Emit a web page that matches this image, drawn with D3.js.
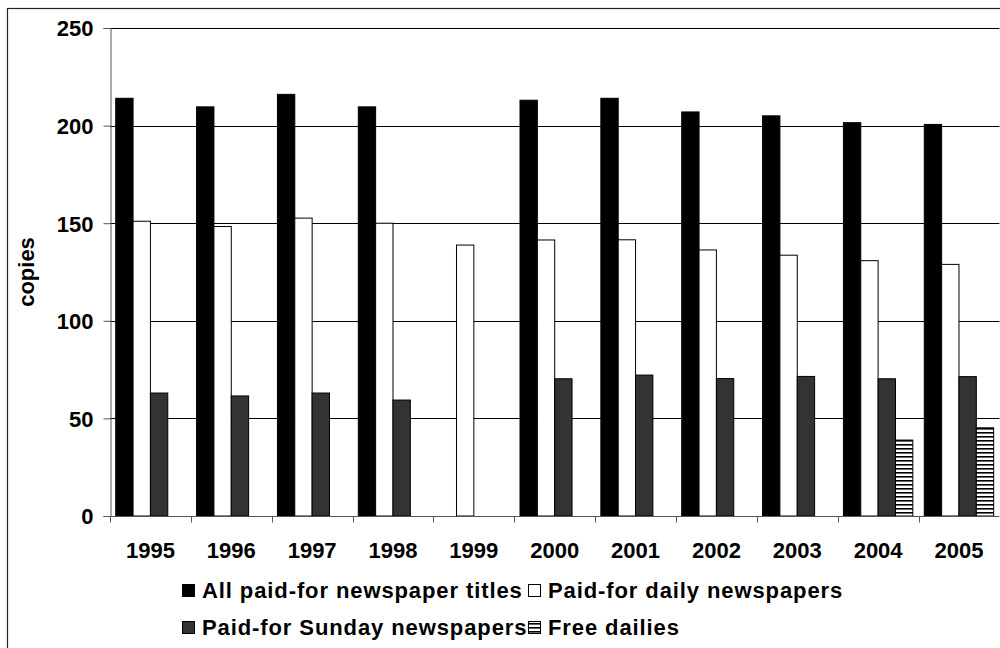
<!DOCTYPE html>
<html>
<head>
<meta charset="utf-8">
<script src="https://cdn.jsdelivr.net/npm/d3@7"></script>
<style>
  html, body { margin: 0; padding: 0; background: #fff; }
  svg { display: block; }
  text { font-family: 'Liberation Sans', Arial, sans-serif; font-weight: bold; fill: #000; }
</style>
</head>
<body>
<svg id="chart"></svg>
<script>
const WIDTH = 1000;
const HEIGHT = 648;

// Plot area in pixels.
const PLOT_LEFT = 110;
const PLOT_RIGHT = 999.4;
const PLOT_TOP = 28;
const PLOT_BOTTOM = 516;

const FONT_SIZE = 22;

// Data (null = no bar).
const years = ['1995', '1996', '1997', '1998', '1999', '2000', '2001', '2002', '2003', '2004', '2005'];
const seriesNames = [
  'All paid-for newspaper titles',
  'Paid-for daily newspapers',
  'Paid-for Sunday newspapers',
  'Free dailies'
];
const allPaid = [214, 209.6, 216, 209.6, null, 213, 214, 207, 205, 201.5, 200.6];
const paidDaily = [151, 148.3, 152.6, 150, 138.8, 141.4, 141.5, 136.3, 133.6, 130.8, 128.9];
const paidSunday = [63, 61.5, 63, 59.4, null, 70.3, 72.2, 70.4, 71.5, 70.3, 71.4];
const freeDailies = [null, null, null, null, null, null, null, null, null, 38.9, 45.2];
const yTicks = [0, 50, 100, 150, 200, 250];

const seriesValues = [allPaid, paidDaily, paidSunday, freeDailies];
const seriesFill = ['#000000', '#ffffff', '#333333', 'url(#stripes)'];

const svg = d3.select('#chart').attr('width', WIDTH).attr('height', HEIGHT);

// Horizontal stripe pattern for the free dailies.
const pattern = svg.append('defs').append('pattern')
  .attr('id', 'stripes')
  .attr('patternUnits', 'userSpaceOnUse')
  .attr('width', 8)
  .attr('height', 4);
pattern.append('rect').attr('width', 8).attr('height', 4).attr('fill', '#fff');
pattern.append('rect').attr('width', 8).attr('height', 1.6).attr('fill', '#000');

// Outer frame of the chart (runs off the right and bottom edges).
svg.append('rect')
  .attr('x', 7.5).attr('y', 8.5)
  .attr('width', WIDTH + 20).attr('height', HEIGHT + 20)
  .attr('fill', 'none').attr('stroke', '#222').attr('stroke-width', 1.2);

const x0 = d3.scaleBand().domain(years).range([PLOT_LEFT, PLOT_RIGHT]);
const x1 = d3.scaleBand()
  .domain(d3.range(seriesNames.length))
  .range([0, x0.bandwidth()])
  .paddingInner(0)
  .paddingOuter(0.33);
const y = d3.scaleLinear().domain([0, 250]).range([PLOT_BOTTOM, PLOT_TOP]);

// Gridlines.
svg.append('g')
  .selectAll('line')
  .data(yTicks.filter(t => t > 0))
  .join('line')
  .attr('x1', PLOT_LEFT).attr('x2', PLOT_RIGHT)
  .attr('y1', d => Math.round(y(d)) + 0.5).attr('y2', d => Math.round(y(d)) + 0.5)
  .attr('stroke', '#000');

// Bars: one group per year, one rect per series.
const bars = [];
years.forEach((year, i) => {
  seriesValues.forEach((values, s) => {
    if (values[i] != null) bars.push({year, s, value: values[i]});
  });
});

svg.append('g')
  .selectAll('rect')
  .data(bars)
  .join('rect')
  .attr('x', d => x0(d.year) + x1(d.s))
  .attr('width', x1.bandwidth())
  .attr('y', d => y(d.value))
  .attr('height', d => y(0) - y(d.value))
  .attr('fill', d => seriesFill[d.s])
  .attr('stroke', '#000')
  .attr('stroke-width', 1);

// Y axis.
const yAxis = d3.axisLeft(y).tickValues(yTicks).tickSize(7).tickPadding(10);
const yAxisGroup = svg.append('g')
  .attr('transform', `translate(${PLOT_LEFT + 0.5}, 0)`)
  .call(yAxis);
yAxisGroup.select('.domain').attr('stroke', '#555');
yAxisGroup.selectAll('.tick line').attr('stroke', '#555');
yAxisGroup.selectAll('.tick text')
  .attr('font-size', FONT_SIZE)
  .attr('font-family', null)
  .attr('dy', '0.36em');

// X axis: ticks sit on the band boundaries.
const xAxisGroup = svg.append('g')
  .attr('transform', `translate(0, ${PLOT_BOTTOM + 0.5})`);
xAxisGroup.append('line')
  .attr('x1', PLOT_LEFT).attr('x2', PLOT_RIGHT)
  .attr('stroke', '#555');
xAxisGroup.selectAll('.xtick')
  .data(years)
  .join('line')
  .attr('class', 'xtick')
  .attr('x1', d => Math.round(x0(d)) + 0.5).attr('x2', d => Math.round(x0(d)) + 0.5)
  .attr('y1', 0).attr('y2', 6)
  .attr('stroke', '#555');
xAxisGroup.selectAll('.xlabel')
  .data(years)
  .join('text')
  .attr('class', 'xlabel')
  .attr('x', d => x0(d) + x0.bandwidth() / 2)
  .attr('y', 41.5)
  .attr('text-anchor', 'middle')
  .attr('font-size', FONT_SIZE)
  .text(d => d);

// Y axis title.
svg.append('text')
  .attr('transform', 'translate(34, 272) rotate(-90)')
  .attr('text-anchor', 'middle')
  .attr('font-size', FONT_SIZE)
  .text('copies');

// Legend in two rows, two columns.
const legendItems = seriesNames.map((name, s) => ({
  name,
  s,
  x: s % 2 === 0 ? 182 : 528,
  y: s < 2 ? 598 : 635
}));
const legend = svg.append('g')
  .selectAll('g')
  .data(legendItems)
  .join('g')
  .attr('transform', d => `translate(${d.x}, ${d.y})`);
legend.append('rect')
  .attr('x', 0.5).attr('y', -13.5)
  .attr('width', 12).attr('height', 12)
  .attr('fill', d => seriesFill[d.s])
  .attr('stroke', '#000');
legend.append('text')
  .attr('x', 20)
  .attr('y', 0)
  .attr('font-size', FONT_SIZE)
  .attr('letter-spacing', 0.9)
  .text(d => d.name);
</script>
</body>
</html>
